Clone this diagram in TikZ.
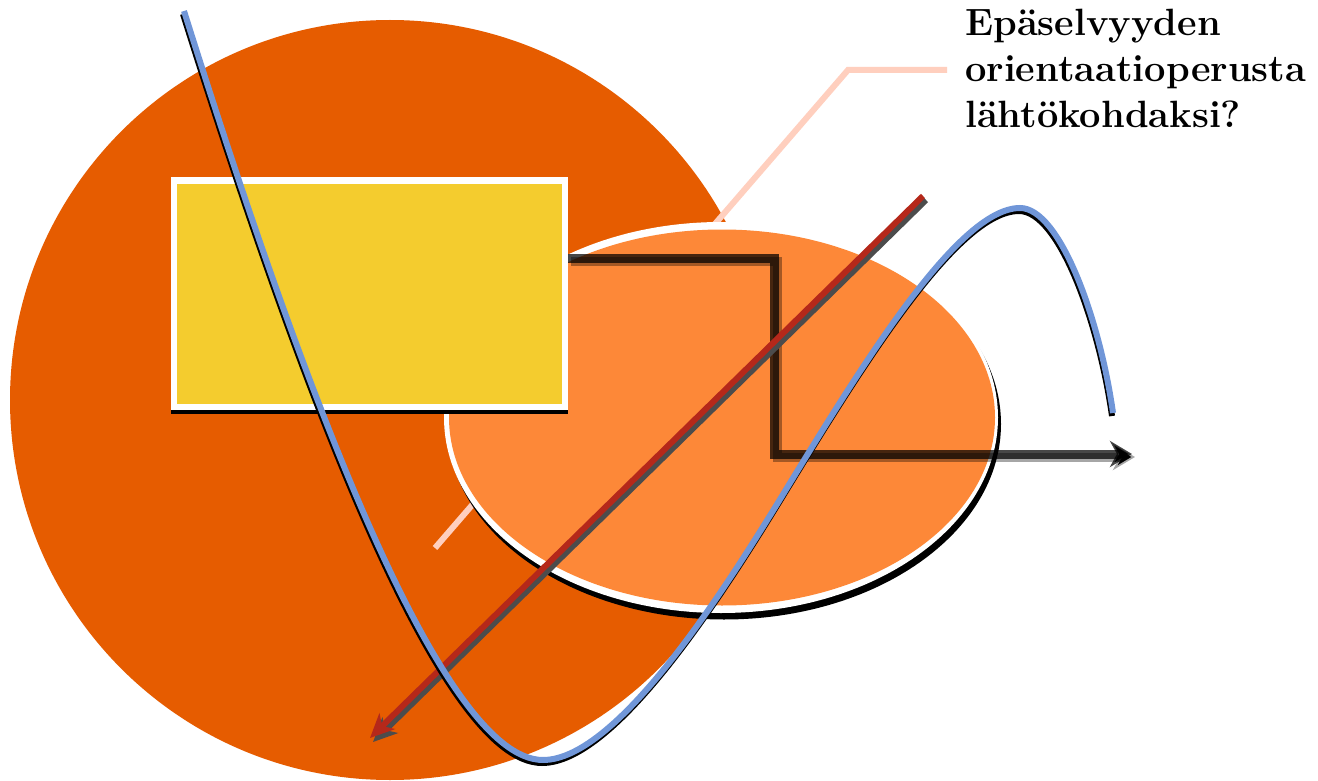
\documentclass[tikz,border=0pt]{standalone}
\usetikzlibrary{arrows.meta}
\definecolor{bigorange}{RGB}{230,92,0}
\definecolor{ellorange}{RGB}{253,136,56}
\definecolor{rectyellow}{RGB}{244,204,46}
\definecolor{curveblue}{RGB}{112,150,216}
\definecolor{arrowred}{RGB}{181,40,26}
\definecolor{paleline}{RGB}{255,207,190}
\tikzset{
  paleconn/.style={draw=paleline, line width=6pt},
  stepshadow/.style={draw=black, draw opacity=0.35, line width=9pt, -{Stealth[length=22pt,width=26pt,inset=7pt]}},
  stepline/.style={draw=black, draw opacity=0.72, line width=9pt, -{Stealth[length=22pt,width=26pt,inset=7pt]}},
  redshadow/.style={draw=black!70, line width=6pt, -{Stealth[length=24pt,width=22pt,inset=7pt]}},
  redline/.style={draw=arrowred, line width=6pt, -{Stealth[length=24pt,width=22pt,inset=7pt]}},
  blueshadow/.style={draw=black, line width=6pt},
  blueline/.style={draw=curveblue, line width=6pt},
  label/.style={anchor=north west, inner sep=0pt, align=left,
    font=\bfseries\fontsize{38}{46}\selectfont}
}
\begin{document}
\begin{tikzpicture}[x=1pt,y=-1pt]
\useasboundingbox (0,0) rectangle (1318,781);
\fill[white] (0,0) rectangle (1318,781);
% big circle
\fill[bigorange] (390,400) circle [radius=380pt];
% pale connector
\coordinate (p1) at (947,70);
\coordinate (p2) at (848,70);
\coordinate (p3) at (435,548);
\draw[paleconn] (p1) -- (p2) -- (p3);
% ellipse
\fill[black] (724,424) ellipse [x radius=277pt, y radius=195.5pt];
\fill[white] (721,417.5) ellipse [x radius=277pt, y radius=195.5pt];
\fill[ellorange] (722,417.5) ellipse [x radius=273pt, y radius=188pt];
% yellow rectangle
\fill[black] (171,182) rectangle (568,414);
\fill[white] (171,177) rectangle (568,410);
\fill[rectyellow] (177,184) rectangle (562,404);
% step arrow
\coordinate (s0) at (568,258);
\coordinate (s1) at (774,258);
\coordinate (s2) at (774,454);
\coordinate (s3) at (1132,454);
\draw[stepshadow] ([shift={(3,3)}]s0) -- ([shift={(3,3)}]s1) -- ([shift={(3,3)}]s2) -- ([shift={(3,3)}]s3);
\draw[stepline] (s0) -- (s1) -- (s2) -- (s3);
% red arrow
\coordinate (r0) at (923,196);
\coordinate (r1) at (370,738);
\draw[redshadow] ([shift={(3,4)}]r0) -- ([shift={(3,4)}]r1);
\draw[redline] (r0) -- (r1);
% blue curve
\def\bluepath{(184,11) .. controls (300,380) and (440,760) .. (543,760)
  .. controls (620,760) and (733,576.5) .. (790,483)
  .. controls (868,355.5) and (960,208) .. (1020,208)
  .. controls (1060,208) and (1100,320) .. (1113,413)}
\begin{scope}[shift={(-1,3)}]
\draw[blueshadow] \bluepath;
\end{scope}
\draw[blueline] \bluepath;
% text
\node[label] (txt) at (965,9) {Ep\"aselvyyden\\orientaatioperusta\\l\"aht\"okohdaksi?};
\end{tikzpicture}
\end{document}
